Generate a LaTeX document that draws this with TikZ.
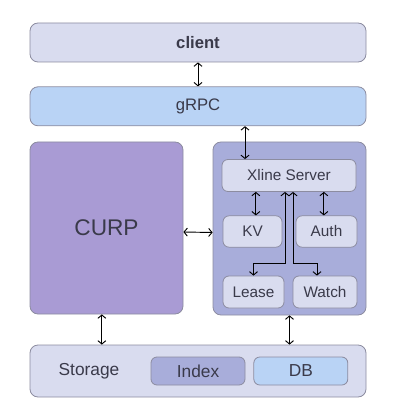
\documentclass[tikz,border=0pt]{standalone}
\usepackage{fontspec}
\setmainfont{Liberation Sans}
\usetikzlibrary{positioning,arrows.meta}
\definecolor{lav}{HTML}{D9DCEF}
\definecolor{sky}{HTML}{B9D3F5}
\definecolor{curpfill}{HTML}{A99BD4}
\definecolor{peri}{HTML}{A8ADDA}
\definecolor{edge}{HTML}{8C8CA0}
\definecolor{ink}{HTML}{3A3A4A}

\begin{document}
\begin{tikzpicture}[
	x=0.75pt, y=-0.75pt,
	box/.style={rectangle, rounded corners=6pt, draw=edge, line width=0.6pt, text=ink, inner sep=0pt, font=\fontsize{12.5}{14}\selectfont},
	wide/.style={box, minimum width=252pt, minimum height=29.25pt},
	module/.style={box, rounded corners=4.5pt, fill=lav, minimum height=23.5pt, font=\fontsize{11.5}{13}\selectfont},
	store/.style={box, rounded corners=4.5pt, minimum width=70.5pt, minimum height=21pt, font=\fontsize{13}{15}\selectfont},
	link/.style={{Straight Barb[length=2.5pt,width=6pt]}-{Straight Barb[length=2.5pt,width=6pt]}, line width=0.7pt, draw=black}
]
\useasboundingbox (0,0) rectangle (400,420);
\node (client) [wide, fill=lav, font=\fontsize{12.5}{14}\selectfont\bfseries] at (198,42.5) {client};
\node (grpc) [wide, fill=sky, below=18pt of client] {gRPC};
\node (curp) [box, fill=curpfill, minimum width=114.75pt, minimum height=129pt, font=\fontsize{17}{19}\selectfont] at (106.5,228) {CURP};
\node (server) [box, fill=peri, minimum width=114.75pt, minimum height=129.75pt] at (289.5,228.5) {};
\node (xline) [module, minimum width=100.5pt, minimum height=24pt] at (289,175.5) {Xline Server};
\node (kv) [module, minimum width=44.25pt] at (252.5,231.5) {KV};
\node (auth) [module, minimum width=45.75pt] at (326.5,231.5) {Auth};
\node (lease) [module, minimum width=45.75pt, minimum height=24pt] at (253.5,292) {Lease};
\node (watch) [module, minimum width=48pt, minimum height=24pt] at (325,292) {Watch};
\node (storage) [wide, fill=lav, minimum height=39pt] at (198,371) {};
\node (storagelabel) [text=ink, font=\fontsize{13}{15}\selectfont] at (89,371) {Storage};
\node (index) [store, fill=peri] at (198,371) {Index};
\node (db) [store, fill=sky, right=6pt of index] {DB};
\draw [link] (client) -- (grpc);
\draw [link] ([xshift=35.25pt]grpc.south) -- ([xshift=-33pt]xline.north);
\draw [link] ([yshift=-3pt]curp.east) -- ([yshift=-3pt]server.west);
\draw [link] ([xshift=2.5pt]kv.north) -- ([xshift=2.5pt]kv.north |- xline.south);
\draw [link] ([xshift=-2pt]auth.north) -- ([xshift=-2pt]auth.north |- xline.south);
\draw [link] ([xshift=-3pt]xline.south) -- ++(0,71.5) -| (lease.north);
\draw [link] ([xshift=3pt]xline.south) -- ++(0,71.5) -| ([xshift=-6pt]watch.north);
\draw [link] ([xshift=-3.5pt]curp.south) -- ([xshift=-3.5pt]curp.south |- storage.north);
\draw [link] (server.south) -- (server.south |- storage.north);
\end{tikzpicture}
\end{document}
